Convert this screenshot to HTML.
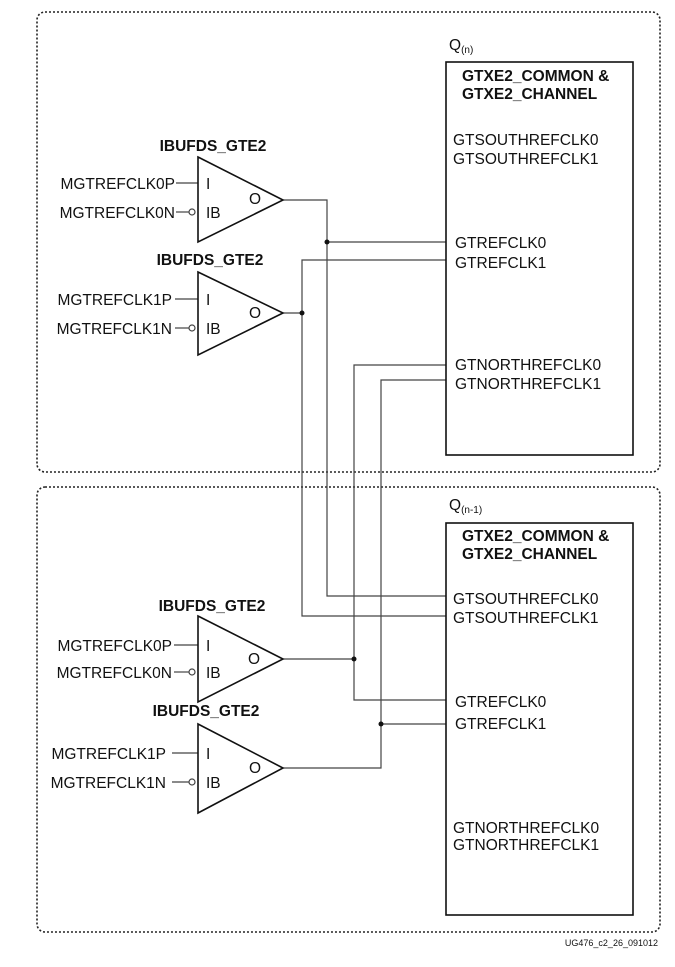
<!DOCTYPE html>
<html><head><style>
body{margin:0;background:#fff}
svg text{font-family:"Liberation Sans",Arial,sans-serif;font-size:15.5px;fill:#111}
.b{font-weight:bold}
.s{font-size:10px}
</style></head><body>
<svg width="675" height="962" viewBox="0 0 675 962" xmlns="http://www.w3.org/2000/svg">
<g fill="none" stroke="#222" stroke-width="1.6" stroke-dasharray="2,2">
<rect x="37" y="12" width="623" height="460" rx="8"/>
<rect x="37" y="487" width="623" height="445" rx="8"/>
</g>
<g fill="none" stroke="#444" stroke-width="1.2">
<line x1="176" y1="183" x2="198" y2="183"/><line x1="176" y1="212" x2="189" y2="212"/><circle cx="192" cy="212" r="3"/>
<line x1="175" y1="299" x2="198" y2="299"/><line x1="175" y1="328" x2="189" y2="328"/><circle cx="192" cy="328" r="3"/>
<line x1="174" y1="645" x2="198" y2="645"/><line x1="174" y1="672" x2="189" y2="672"/><circle cx="192" cy="672" r="3"/>
<line x1="172" y1="753" x2="198" y2="753"/><line x1="172" y1="782" x2="189" y2="782"/><circle cx="192" cy="782" r="3"/>
<polyline points="283,200 327,200 327,596 446,596"/>
<line x1="327" y1="242" x2="446" y2="242"/>
<line x1="283" y1="313" x2="302" y2="313"/>
<polyline points="446,260 302,260 302,616 446,616"/>
<line x1="283" y1="659" x2="354" y2="659"/>
<polyline points="446,365 354,365 354,700 446,700"/>
<polyline points="283,768 381,768 381,380 446,380"/>
<line x1="381" y1="724" x2="446" y2="724"/>
</g>
<g fill="#fff" stroke="#111" stroke-width="1.6">
<rect x="446" y="62" width="187" height="393" fill="none"/>
<rect x="446" y="523" width="187" height="392" fill="none"/>
<polygon points="198,157 283,200 198,242"/>
<polygon points="198,272 283,313 198,355"/>
<polygon points="198,616 283,659 198,702"/>
<polygon points="198,724 283,768 198,813"/>
</g>
<g fill="#111">
<circle cx="327" cy="242" r="2.5"/><circle cx="302" cy="313" r="2.5"/>
<circle cx="354" cy="659" r="2.5"/><circle cx="381" cy="724" r="2.5"/>
</g>
<text x="449" y="50">Q<tspan class="s" dy="3">(n)</tspan></text>
<text x="462" y="81" class="b">GTXE2_COMMON &amp;</text>
<text x="462" y="99" class="b">GTXE2_CHANNEL</text>
<text x="453" y="145">GTSOUTHREFCLK0</text>
<text x="453" y="164">GTSOUTHREFCLK1</text>
<text x="455" y="248">GTREFCLK0</text>
<text x="455" y="268">GTREFCLK1</text>
<text x="455" y="370">GTNORTHREFCLK0</text>
<text x="455" y="389">GTNORTHREFCLK1</text>
<text x="213" y="151" text-anchor="middle" class="b">IBUFDS_GTE2</text>
<text x="175" y="189" text-anchor="end">MGTREFCLK0P</text>
<text x="175" y="218" text-anchor="end">MGTREFCLK0N</text>
<text x="206" y="189">I</text><text x="206" y="218">IB</text><text x="249" y="204">O</text>
<text x="210" y="265" text-anchor="middle" class="b">IBUFDS_GTE2</text>
<text x="172" y="305" text-anchor="end">MGTREFCLK1P</text>
<text x="172" y="334" text-anchor="end">MGTREFCLK1N</text>
<text x="206" y="305">I</text><text x="206" y="334">IB</text><text x="249" y="318">O</text>
<text x="449" y="510">Q<tspan class="s" dy="3">(n-1)</tspan></text>
<text x="462" y="541" class="b">GTXE2_COMMON &amp;</text>
<text x="462" y="559" class="b">GTXE2_CHANNEL</text>
<text x="453" y="604">GTSOUTHREFCLK0</text>
<text x="453" y="623">GTSOUTHREFCLK1</text>
<text x="455" y="707">GTREFCLK0</text>
<text x="455" y="729">GTREFCLK1</text>
<text x="453" y="833">GTNORTHREFCLK0</text>
<text x="453" y="850">GTNORTHREFCLK1</text>
<text x="212" y="611" text-anchor="middle" class="b">IBUFDS_GTE2</text>
<text x="172" y="651" text-anchor="end">MGTREFCLK0P</text>
<text x="172" y="678" text-anchor="end">MGTREFCLK0N</text>
<text x="206" y="651">I</text><text x="206" y="678">IB</text><text x="248" y="664">O</text>
<text x="206" y="716" text-anchor="middle" class="b">IBUFDS_GTE2</text>
<text x="166" y="759" text-anchor="end">MGTREFCLK1P</text>
<text x="166" y="788" text-anchor="end">MGTREFCLK1N</text>
<text x="206" y="759">I</text><text x="206" y="788">IB</text><text x="249" y="773">O</text>
<text x="658" y="946" text-anchor="end" style="font-size:9px">UG476_c2_26_091012</text>
</svg>
</body></html>
